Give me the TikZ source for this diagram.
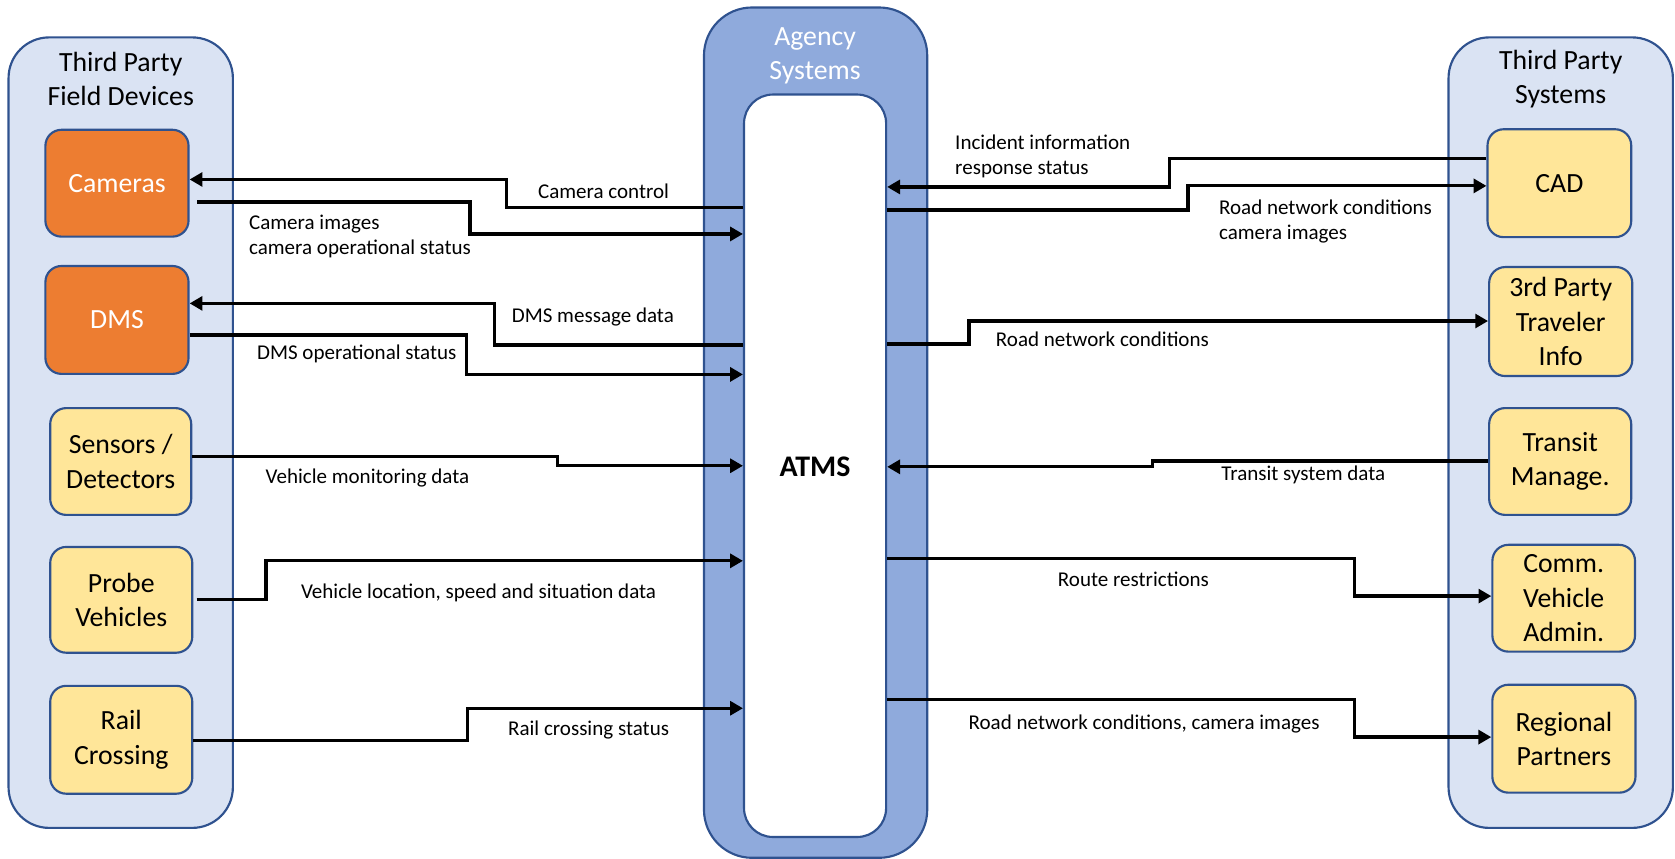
\documentclass[tikz,border=0pt]{standalone}
\usepackage{fontspec}
\setmainfont{Carlito}
\usetikzlibrary{arrows.meta}
\definecolor{bordblue}{HTML}{2F528F}
\definecolor{contfill}{HTML}{DAE3F3}
\definecolor{agfill}{HTML}{8FAADC}
\definecolor{orangefill}{HTML}{ED7D31}
\definecolor{yellowfill}{HTML}{FFE699}
\begin{document}
\begin{tikzpicture}[x=1pt,y=-1pt,
  container/.style={draw=bordblue, fill=contfill, line width=2pt, rounded corners=38pt, minimum width=210pt, minimum height=740pt, inner sep=0pt},
  title/.style={font=\fontsize{26}{32}\selectfont, align=center, text=black},
  devbox/.style={draw=bordblue, line width=2pt, rounded corners=15pt, minimum width=133pt, minimum height=100pt, inner sep=0pt, align=center, font=\fontsize{26}{32}\selectfont},
  orangebox/.style={devbox, fill=orangefill, text=white},
  ybox/.style={devbox, fill=yellowfill, text=black},
  lbl/.style={font=\fontsize{19.7}{23.5}\selectfont, inner sep=0pt, text=black},
  flow/.style={line width=3pt, -{Triangle[length=12pt,width=13pt]}},
]
\useasboundingbox (0,0) rectangle (1568,804);

% left container
\node[container] (left) at (113,405) {};
\node[title] (lefttitle) at (113,74) {Third Party\\Field Devices};
\node[orangebox, minimum width=134pt] (cam) at (109.5,171.5) {Cameras};
\node[orangebox, minimum width=134pt, minimum height=101pt] (dms) at (109.5,299.5) {DMS};
\node[ybox, minimum width=132pt] (sens) at (113,432) {Sensors /\\Detectors};
\node[ybox, minimum width=133pt, minimum height=99pt] (probe) at (113.5,561.5) {Probe\\Vehicles};
\node[ybox, minimum width=133pt, minimum height=101pt] (rail) at (113.5,692.5) {Rail\\Crossing};

% center
\node[draw=bordblue, fill=agfill, line width=2pt, rounded corners=45pt, minimum width=209pt, minimum height=796pt, inner sep=0pt] (agency) at (763.5,405) {};
\node[draw=bordblue, fill=white, line width=2pt, rounded corners=27pt, minimum width=133pt, minimum height=695pt, inner sep=0pt] (inner) at (763,436) {};
\node[title, text=white] (agtitle) at (763,52) {Agency\\Systems};
\node[font=\fontsize{28}{32}\selectfont\bfseries] (atms) at (763,437) {ATMS};

% right container
\node[container] (right) at (1461,405) {};
\node[title] (righttitle) at (1461,74) {Third Party\\Systems};
\node[ybox, minimum width=134.5pt, minimum height=101pt] (cad) at (1459.75,171.5) {CAD};
\node[ybox, minimum width=134pt, minimum height=102pt] (trav) at (1461,301) {3rd Party\\Traveler\\Info};
\node[ybox, minimum width=133pt] (transit) at (1460.5,432) {Transit\\Manage.};
\node[ybox, minimum width=133.5pt] (comm) at (1463.8,560) {Comm.\\Vehicle\\Admin.};
\node[ybox, minimum width=134pt, minimum height=101pt] (regional) at (1464,691.5) {Regional\\Partners};

% left connectors
\draw[flow] (inner.west |- 0,194) -- (474,194) -- (474,168) -- (cam.east |- 0,168);
\node[lbl] (l1) at (565,179) {Camera control};
\draw[flow] ([xshift=7pt]cam.east |- 0,189) -- (440,189) -- (440,219) -- (inner.west |- 0,219);
\node[lbl, anchor=west, align=left] (l2) at (233,221.5) {Camera images\\camera operational status};
\draw[flow] (inner.west |- 0,323) -- (463,323) -- (463,284) -- (dms.east |- 0,284);
\node[lbl] (l3) at (555,297) {DMS message data};
\draw[flow] (dms.east |- 0,313.5) -- (437,313.5) -- (437,350.5) -- (inner.west |- 0,350.5);
\node[lbl] (l4) at (334,331) {DMS operational status};
\draw[flow] (sens.east |- 0,427.5) -- (522,427.5) -- (522,436) -- (inner.west |- 0,436);
\node[lbl] (l5) at (344,447) {Vehicle monitoring data};
\draw[flow] ([xshift=3pt]probe.east |- 0,561.5) -- (249,561.5) -- (249,525) -- (inner.west |- 0,525);
\node[lbl] (l6) at (448,555) {Vehicle location, speed and situation data};
\draw[flow] (rail.east |- 0,693.5) -- (438,693.5) -- (438,663) -- (inner.west |- 0,663);
\node[lbl] (l7) at (551,683) {Rail crossing status};

% right connectors
\draw[flow] (cad.west |- 0,148.5) -- (1095,148.5) -- (1095,175) -- (inner.east |- 0,175);
\node[lbl, anchor=west, align=left] (r1) at (894,146) {Incident information\\response status};
\draw[flow] (inner.east |- 0,196.5) -- (1112,196.5) -- (1112,174) -- (cad.west |- 0,174);
\node[lbl, anchor=west, align=left] (r2) at (1141,207.5) {Road network conditions\\camera images};
\draw[flow] (inner.east |- 0,322) -- (907,322) -- (907,300.5) -- (trav.west |- 0,300.5);
\node[lbl] (r3) at (1032,318) {Road network conditions};
\draw[flow] (transit.west |- 0,431.5) -- (1078.5,431.5) -- (1078.5,437) -- (inner.east |- 0,437);
\node[lbl] (r4) at (1220,445) {Transit system data};
\draw[flow] (inner.east |- 0,523) -- (1268,523) -- (1268,558) -- (comm.west |- 0,558);
\node[lbl] (r5) at (1061,542) {Route restrictions};
\draw[flow] (inner.east |- 0,655) -- (1268,655) -- (1268,690) -- (regional.west |- 0,690);
\node[lbl] (r6) at (1071,678) {Road network conditions, camera images};
\end{tikzpicture}
\end{document}
